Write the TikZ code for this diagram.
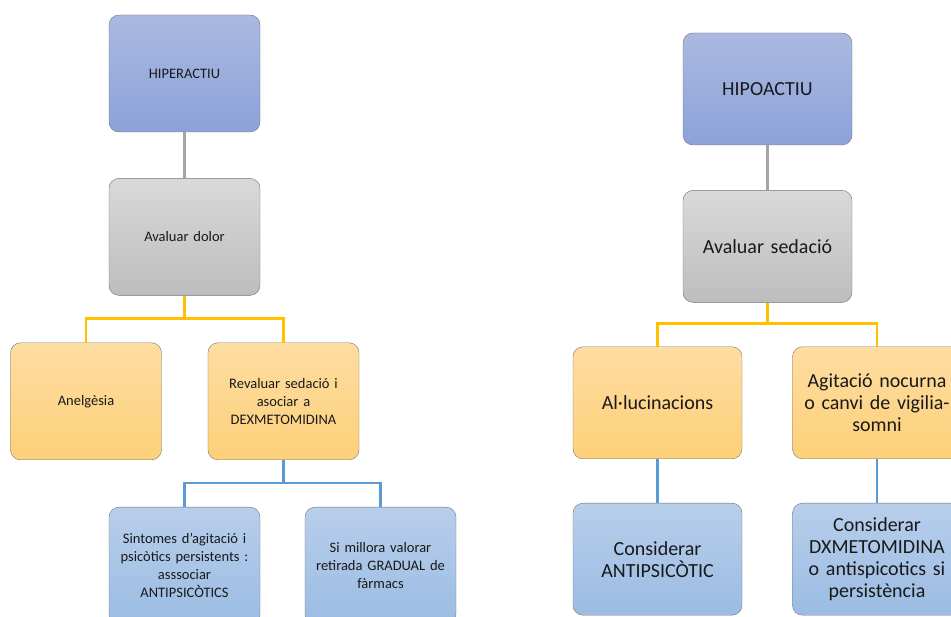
\documentclass[tikz,border=0pt]{standalone}
\usepackage{fontspec}
\setmainfont{Carlito}
\usetikzlibrary{positioning}

\definecolor{hiptop}{HTML}{AAB9E1}
\definecolor{hipbot}{HTML}{8BA2D9}
\definecolor{grytop}{HTML}{D9D9D9}
\definecolor{grybot}{HTML}{BDBDBD}
\definecolor{yeltop}{HTML}{FEDDA2}
\definecolor{yelbot}{HTML}{FDD079}
\definecolor{blutop}{HTML}{B8CEEB}
\definecolor{blubot}{HTML}{9BBCE3}
\definecolor{yelline}{HTML}{FFC000}
\definecolor{bluline}{HTML}{5B9BD5}
\definecolor{gryline}{HTML}{A5A5A5}

\newcommand\leftfont{\fontsize{14.5}{18}\selectfont\spaceskip=0.13em plus 0.05em\relax}

\begin{document}
\begin{tikzpicture}[
  x=1pt, y=1pt,
  box/.style={draw=black!55, rounded corners=10pt, align=center, text=black!90, inner sep=2pt},
  lbox/.style={box, minimum width=151pt, minimum height=117pt, text width=144pt, font=\leftfont},
  rbox/.style={box, minimum width=169pt, minimum height=112pt, text width=163pt, font=\fontsize{20}{22}\selectfont},
  hipfill/.style={top color=hiptop, bottom color=hipbot},
  gryfill/.style={top color=grytop, bottom color=grybot},
  yelfill/.style={top color=yeltop, bottom color=yelbot},
  blufill/.style={top color=blutop, bottom color=blubot},
  glink/.style={draw=gryline, line width=2.2pt},
  ylink/.style={draw=yelline, line width=2.2pt},
  blink/.style={draw=bluline, line width=2.2pt}
]
\clip (0,0) rectangle (951,-617);

% left tree
\node[lbox, hipfill] (hiper) at (184.5,-73.5) {HIPERACTIU};
\node[lbox, gryfill, below=46pt of hiper] (dolor) {Avaluar dolor};
\node[lbox, yelfill, below=47pt of dolor, xshift=-98.5pt] (anelg) {Anelgèsia};
\node[lbox, yelfill, below=47pt of dolor, xshift=99pt] (reval) {Revaluar sedació i\\asociar a\\DEXMETOMIDINA};
\node[lbox, blufill, below=47pt of reval, xshift=-99pt] (sint) {Sintomes d'agitació i\\psicòtics persistents :\\asssociar\\ANTIPSICÒTICS};
\node[lbox, blufill, below=47pt of reval, xshift=97pt] (retir) {Si millora valorar\\retirada GRADUAL de\\fàrmacs};

\draw[glink] (hiper) -- (dolor);
\draw[ylink] (dolor.south) -- ++(0,-23) -| (anelg.north);
\draw[ylink] (dolor.south) -- ++(0,-23) -| (reval.north);
\draw[blink] (reval.south) -- ++(0,-23) -| (sint.north);
\draw[blink] (reval.south) -- ++(0,-23) -| (retir.north);

% right tree
\node[rbox, hipfill] (hipo) at (767.5,-89) {HIPOACTIU};
\node[rbox, gryfill, below=45pt of hipo] (sedac) {Avaluar sedació};
\node[rbox, yelfill, below=44pt of sedac, xshift=-110pt] (alluc) {Al·lucinacions};
\node[rbox, yelfill, below=44pt of sedac, xshift=109.5pt] (agit) {Agitació nocurna\\o canvi de vigilia-\\somni};
\node[rbox, blufill, below=44pt of alluc] (consa) {Considerar\\ANTIPSICÒTIC};
\node[rbox, blufill, below=44pt of agit] (consd) {Considerar\\DXMETOMIDINA\\o antispicotics si\\persistència};

\draw[glink] (hipo) -- (sedac);
\draw[ylink] (sedac.south) -- ++(0,-21) -| (alluc.north);
\draw[ylink] (sedac.south) -- ++(0,-21) -| (agit.north);
\draw[blink] (alluc) -- (consa);
\draw[blink] (agit) -- (consd);
\end{tikzpicture}
\end{document}
